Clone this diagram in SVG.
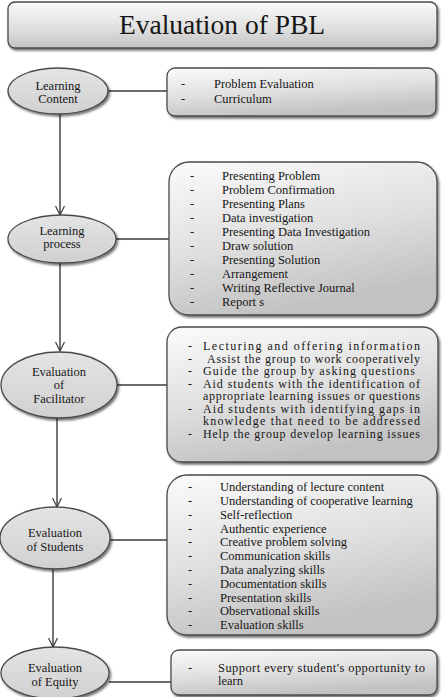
<svg xmlns="http://www.w3.org/2000/svg" width="442" height="697" viewBox="0 0 442 697">
<defs>
<linearGradient id="gBox" x1="0" y1="0" x2="0.35" y2="1">
<stop offset="0" stop-color="#fbfbfb"/>
<stop offset="0.55" stop-color="#e0e0e0"/>
<stop offset="1" stop-color="#c2c2c2"/>
</linearGradient>
<linearGradient id="gTitle" x1="0" y1="0" x2="0" y2="1">
<stop offset="0" stop-color="#fafafa"/>
<stop offset="0.6" stop-color="#dedede"/>
<stop offset="1" stop-color="#c2c2c2"/>
</linearGradient>
<linearGradient id="gEll" x1="0" y1="0" x2="0" y2="1">
<stop offset="0" stop-color="#e4e4e4"/>
<stop offset="1" stop-color="#d0d0d0"/>
</linearGradient>
<filter id="sh" x="-10%" y="-10%" width="125%" height="130%">
<feDropShadow dx="1.5" dy="2" stdDeviation="1.3" flood-color="#000" flood-opacity="0.55"/>
</filter>
<marker id="arr" viewBox="0 0 10 10" refX="9" refY="5" markerWidth="10" markerHeight="10" markerUnits="userSpaceOnUse" orient="auto">
<path d="M0,0.5 L9,5 L0,9.5" fill="none" stroke="#3a3a3a" stroke-width="1.2"/>
</marker>
</defs>
<style>
.box{fill:url(#gBox);stroke:#4a4a4a;stroke-width:1.3;filter:url(#sh)}
.title{fill:url(#gTitle);stroke:#4a4a4a;stroke-width:1.3;filter:url(#sh)}
.ell{fill:url(#gEll);stroke:#4a4a4a;stroke-width:1.3;filter:url(#sh)}
.conn{stroke:#3a3a3a;stroke-width:1.4;fill:none}
.lst{font-family:"Liberation Serif",serif;font-size:12.5px;fill:#161616}
.jst{font-family:"Liberation Serif",serif;font-size:12px;fill:#161616}
.nod{font-family:"Liberation Serif",serif;font-size:12.5px;fill:#161616;text-anchor:middle}
.hd{font-family:"Liberation Serif",serif;font-size:27.5px;fill:#161616;text-anchor:middle}
</style>
<rect width="442" height="697" fill="#ffffff"/>

<g id="connectors">
<line class="conn" x1="108" y1="91" x2="167" y2="91"/>
<line class="conn" x1="116" y1="239" x2="169" y2="239"/>
<line class="conn" x1="117" y1="385" x2="167" y2="385"/>
<line class="conn" x1="110" y1="540" x2="167" y2="540"/>
<line class="conn" x1="109" y1="682" x2="171" y2="682"/>
<line class="conn" x1="60" y1="114" x2="60" y2="215" marker-end="url(#arr)"/>
<line class="conn" x1="60" y1="263" x2="60" y2="351" marker-end="url(#arr)"/>
<line class="conn" x1="57" y1="417" x2="57" y2="507" marker-end="url(#arr)"/>
<line class="conn" x1="53" y1="569" x2="53" y2="647" marker-end="url(#arr)"/>
</g>

<g id="title">
<rect class="title" x="8" y="2" width="429" height="46" rx="7"/>
<text class="hd" x="222" y="34">Evaluation of PBL</text>
</g>

<g id="learning-content" class="nod">
<ellipse class="ell" cx="58" cy="91" rx="50" ry="23"/>
<text x="58" y="90">Learning</text>
<text x="58" y="103">Content</text>
</g>
<g id="learning-content-list" class="lst">
<rect class="box" x="167" y="68" width="269" height="48" rx="8"/>
<text x="181" y="88">-</text><text x="214" y="88">Problem Evaluation</text>
<text x="181" y="103">-</text><text x="214" y="103">Curriculum</text>
</g>

<g id="learning-process" class="nod">
<ellipse class="ell" cx="62" cy="239" rx="54" ry="24"/>
<text x="62" y="235">Learning</text>
<text x="62" y="248">process</text>
</g>
<g id="learning-process-list" class="lst">
<rect class="box" x="169" y="162" width="268" height="153" rx="20"/>
<text x="190" y="180">-</text><text x="222" y="180">Presenting Problem</text>
<text x="190" y="194">-</text><text x="222" y="194">Problem Confirmation</text>
<text x="190" y="208">-</text><text x="222" y="208">Presenting Plans</text>
<text x="190" y="222">-</text><text x="222" y="222">Data investigation</text>
<text x="190" y="236">-</text><text x="222" y="236">Presenting Data Investigation</text>
<text x="190" y="250">-</text><text x="222" y="250">Draw solution</text>
<text x="190" y="264">-</text><text x="222" y="264">Presenting Solution</text>
<text x="190" y="278">-</text><text x="222" y="278">Arrangement</text>
<text x="190" y="292">-</text><text x="222" y="292">Writing Reflective Journal</text>
<text x="190" y="306">-</text><text x="222" y="306">Report s</text>
</g>

<g id="evaluation-facilitator" class="nod">
<ellipse class="ell" cx="59" cy="385" rx="58" ry="33"/>
<text x="59" y="376">Evaluation</text>
<text x="59" y="389">of</text>
<text x="59" y="403">Facilitator</text>
</g>
<g id="evaluation-facilitator-list" class="jst">
<rect class="box" x="167" y="327" width="271" height="135" rx="15"/>
<text x="188" y="350">-</text><text x="203" y="350" textLength="217" lengthAdjust="spacing">Lecturing and offering information</text>
<text x="188" y="362.5">-</text><text x="207" y="362.5" textLength="213" lengthAdjust="spacing">Assist the group to work cooperatively</text>
<text x="188" y="375">-</text><text x="203" y="375" textLength="212" lengthAdjust="spacing">Guide the group by asking questions</text>
<text x="188" y="387.5">-</text><text x="203" y="387.5" textLength="217" lengthAdjust="spacing">Aid students with the identification of</text>
<text x="203" y="400" textLength="217" lengthAdjust="spacing">appropriate learning issues or questions</text>
<text x="188" y="412.5">-</text><text x="203" y="412.5" textLength="217" lengthAdjust="spacing">Aid students with identifying gaps in</text>
<text x="203" y="425" textLength="217" lengthAdjust="spacing">knowledge that need to be addressed</text>
<text x="188" y="437.5">-</text><text x="203" y="437.5" textLength="217" lengthAdjust="spacing">Help the group develop learning issues</text>
</g>

<g id="evaluation-students" class="nod">
<ellipse class="ell" cx="55" cy="538" rx="55" ry="31"/>
<text x="55" y="537">Evaluation</text>
<text x="55" y="551">of Students</text>
</g>
<g id="evaluation-students-list" class="lst">
<rect class="box" x="167" y="475" width="270" height="160" rx="20"/>
<text x="188" y="491">-</text><text x="220" y="491">Understanding of lecture content</text>
<text x="188" y="505">-</text><text x="220" y="505">Understanding of cooperative learning</text>
<text x="188" y="518.5">-</text><text x="220" y="518.5">Self-reflection</text>
<text x="188" y="532.5">-</text><text x="220" y="532.5">Authentic experience</text>
<text x="188" y="546">-</text><text x="220" y="546">Creative problem solving</text>
<text x="188" y="560">-</text><text x="220" y="560">Communication skills</text>
<text x="188" y="574">-</text><text x="220" y="574">Data analyzing skills</text>
<text x="188" y="587.5">-</text><text x="220" y="587.5">Documentation skills</text>
<text x="188" y="601.5">-</text><text x="220" y="601.5">Presentation skills</text>
<text x="188" y="615">-</text><text x="220" y="615">Observational skills</text>
<text x="188" y="629">-</text><text x="220" y="629">Evaluation skills</text>
</g>

<g id="evaluation-equity" class="nod">
<ellipse class="ell" cx="55" cy="673" rx="54" ry="26"/>
<text x="55" y="672">Evaluation</text>
<text x="55" y="686">of Equity</text>
</g>
<g id="evaluation-equity-list" class="lst">
<rect class="box" x="171" y="650" width="266" height="45" rx="8"/>
<text x="188" y="672">-</text><text x="218" y="672" textLength="207" lengthAdjust="spacing">Support every student's opportunity to</text>
<text x="218" y="685">learn</text>
</g>
</svg>
